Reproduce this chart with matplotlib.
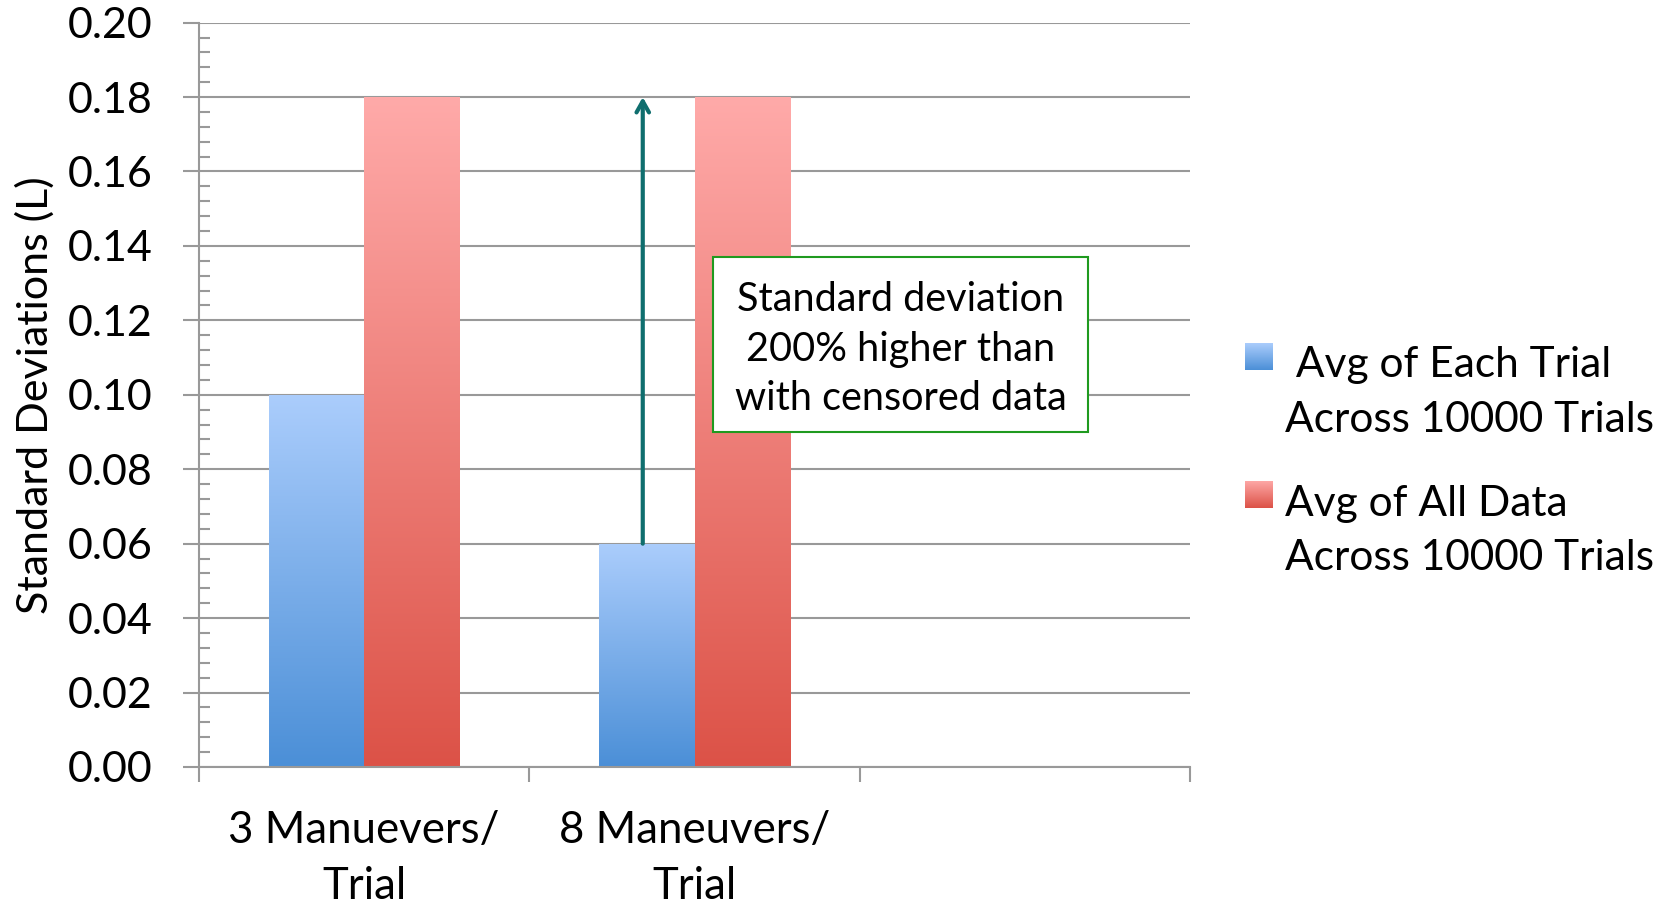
import matplotlib.pyplot as plt
import numpy as np
from matplotlib.colors import LinearSegmentedColormap
from matplotlib.patches import Rectangle
from matplotlib.ticker import MultipleLocator

categories = ['3 Manuevers/\nTrial', '8 Maneuvers/\nTrial', '']
each_trial = [0.10, 0.06]
all_data = [0.18, 0.18]
series_names = [' Avg of Each Trial\nAcross 10000 Trials',
                'Avg of All Data\nAcross 10000 Trials']
note = 'Standard deviation\n200% higher than\nwith censored data'

plt.rcParams['font.family'] = ['Lato', 'DejaVu Sans']

blue_cm = LinearSegmentedColormap.from_list('blue', ['#4b8fd7', '#abcdfc'])
red_cm = LinearSegmentedColormap.from_list('red', ['#dc5247', '#ffaaa9'])
grid_col = '#999999'

fig = plt.figure(figsize=(16.69, 9.05), dpi=100)
ax = fig.add_axes([0.1192, 0.1525, 0.594, 0.8225])

x = np.arange(len(each_trial)) + 0.5
w = 0.288
b1 = ax.bar(x - w / 2, each_trial, w, facecolor='none', edgecolor='none')
b2 = ax.bar(x + w / 2, all_data, w, facecolor='none', edgecolor='none')

# gradient fill, clipped to each bar
grad = np.linspace(0, 1, 256).reshape(-1, 1)
for bars, cm in [(b1, blue_cm), (b2, red_cm)]:
    for r in bars:
        x0, y0 = r.get_x(), r.get_y()
        im = ax.imshow(grad, cmap=cm, origin='lower', aspect='auto',
                       extent=[x0, x0 + r.get_width(), y0, y0 + r.get_height()],
                       zorder=2)
        im.set_clip_path(r)

ax.set_xlim(0, len(categories))
ax.set_ylim(0, 0.20)

ax.set_yticks(np.arange(0, 0.201, 0.02))
ax.set_yticklabels(['%.2f' % v for v in np.arange(0, 0.201, 0.02)], fontsize=31)
ax.yaxis.set_minor_locator(MultipleLocator(0.004))
ax.tick_params(axis='y', which='major', direction='out', length=11.5, width=1.5,
               color=grid_col, pad=22)
ax.tick_params(axis='y', which='minor', direction='in', length=8, width=1.5,
               color=grid_col)
ax.yaxis.grid(True, color=grid_col, lw=1.5)
ax.set_axisbelow(True)

ax.set_xticks(np.arange(len(categories) + 1))
ax.set_xticklabels([])
ax.set_xticks(np.arange(len(categories)) + 0.5, categories, minor=True, fontsize=31.5)
for t in ax.get_xticklabels(minor=True):
    t.set_linespacing(1.44)
ax.tick_params(axis='x', which='major', direction='out', length=11, width=1.5,
               color=grid_col)
ax.tick_params(axis='x', which='minor', length=0, pad=31)

for s in ['top', 'right']:
    ax.spines[s].set_visible(False)
for s in ['left', 'bottom']:
    ax.spines[s].set_color(grid_col)
    ax.spines[s].set_linewidth(1.5)

ax.set_ylabel('Standard Deviations (L)', fontsize=31, va='center')
ax.yaxis.set_label_coords(-0.165, 0.5)

# arrow from censored to full-data value
ax_x = x[1] - w / 2 - 0.013
ax.annotate('', xy=(ax_x, all_data[1]), xytext=(ax_x, each_trial[1]),
            arrowprops=dict(arrowstyle='->,head_length=0.8,head_width=0.45',
                            lw=3, color='#0f6e6e', shrinkA=0, shrinkB=0),
            zorder=5)

ax.add_patch(Rectangle((1.555, 0.090), 1.135, 0.047, facecolor='white',
                       edgecolor='#1f9a1f', lw=1.5, zorder=4))
ax.text(2.124, 0.1123, note, ha='center', va='center', fontsize=28.5,
        linespacing=1.43, zorder=5)

# legend drawn by hand
for i, (cm, name) in enumerate([(blue_cm, series_names[0]), (red_cm, series_names[1])]):
    top = [343, 481][i]
    lax = fig.add_axes([1245 / 1669, 1 - (top + 27) / 905, 28 / 1669, 27 / 905])
    lax.imshow(grad, cmap=cm, origin='lower', aspect='auto')
    lax.axis('off')
    fig.text(1285 / 1669, 1 - [392.5, 531][i] / 905, name, ha='left', va='center',
             fontsize=30.5, linespacing=1.54)

fig.savefig('out.png', dpi=100)
